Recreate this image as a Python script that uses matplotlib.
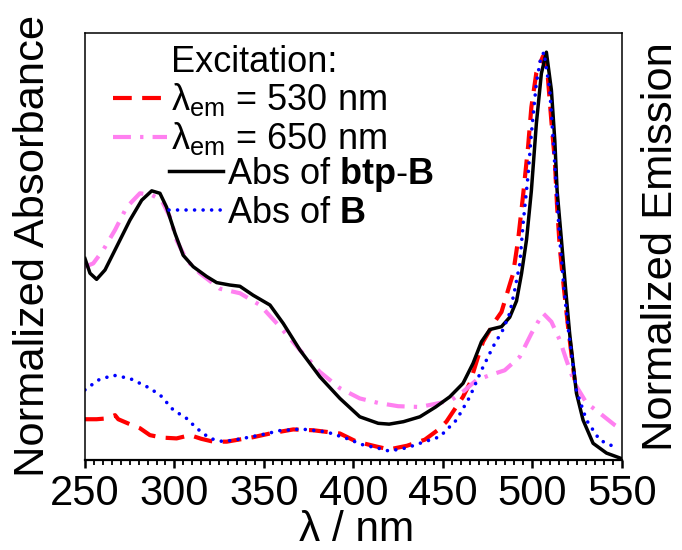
import matplotlib.pyplot as plt
from matplotlib.lines import Line2D
from matplotlib.ticker import MultipleLocator

plt.rcParams['font.family'] = ['Liberation Sans', 'DejaVu Sans']
plt.rcParams['mathtext.fontset'] = 'custom'
plt.rcParams['mathtext.rm'] = 'Liberation Sans'
plt.rcParams['mathtext.it'] = 'Liberation Sans:italic'
plt.rcParams['mathtext.bf'] = 'Liberation Sans:bold'

# Abs of btp-B (black solid)
wl_btp = [250, 252.8, 256.5, 261.2, 267.7, 275.1, 281.7, 287.3, 291.9, 295.6, 300.3, 304.9,
          310.5, 318, 323.6, 331, 336.6, 344, 353.4, 360.8, 370.1, 381.3, 392.5, 403.6,
          413.9, 420, 428, 437.2, 446, 453.9, 461.3, 466.9, 471.6, 476.3, 482.8, 487.4,
          491.2, 494, 496.8, 499.5, 502.3, 505.1, 507.9, 510.7, 512.6, 513.9, 516.3, 518.7,
          520.9, 524.7, 528.4, 534, 541.5, 549, 550]
abs_btp = [0.494, 0.458, 0.443, 0.466, 0.523, 0.588, 0.637, 0.66, 0.654, 0.62, 0.556, 0.502,
           0.474, 0.45, 0.435, 0.429, 0.426, 0.404, 0.38, 0.335, 0.27, 0.204, 0.151, 0.106,
           0.09, 0.088, 0.094, 0.106, 0.13, 0.155, 0.188, 0.237, 0.29, 0.32, 0.327, 0.35,
           0.39, 0.457, 0.54, 0.66, 0.825, 0.948, 1.0, 0.907, 0.784, 0.66, 0.54, 0.417,
           0.31, 0.164, 0.098, 0.041, 0.017, 0.005, 0.003]

# Abs of B (blue dotted)
wl_b = [250, 257.4, 265.8, 275.1, 284.5, 291.9, 299.3, 306.8, 312.4, 319.8, 327.3, 334.7,
        347.8, 358.9, 371, 385, 396.2, 405.5, 413.9, 420, 430, 437.2, 448.3, 457.6,
        465.1, 471.6, 478.1, 483.7, 487.4, 490.2, 493, 494.9, 497.7, 499.5, 502.3, 504.5,
        506.5, 509.8, 511.7, 513.5, 515.4, 517.8, 520.3, 524.7, 530.3, 537.7, 547]
abs_b = [0.172, 0.196, 0.208, 0.20, 0.18, 0.16, 0.123, 0.102, 0.078, 0.053, 0.045, 0.05,
         0.061, 0.072, 0.076, 0.069, 0.053, 0.037, 0.029, 0.022, 0.03, 0.041, 0.057, 0.098,
         0.155, 0.22, 0.278, 0.32, 0.36, 0.417, 0.48, 0.58, 0.70, 0.80, 0.924, 0.98,
         1.0, 0.907, 0.784, 0.66, 0.54, 0.417, 0.315, 0.17, 0.098, 0.049, 0.03]

# Excitation, lambda_em = 530 nm (red dashed)
wl_530 = [250, 256.5, 262.1, 266.8, 268.6, 275, 280.7, 286.3, 293, 301.2, 308.7, 315,
          321.7, 329.2, 344, 353.4, 366.4, 377.5, 392.5, 401.8, 413, 420, 430, 440,
          447.4, 452, 461.3, 465.1, 469.7, 472.5, 479, 482.8, 487.4, 489.3, 492.1, 494.9,
          497.7, 499.5, 502.3, 506, 508.5, 510.7, 512.6, 513.9, 515.4, 517.6, 520, 523.7]
exc_530 = [0.10, 0.10, 0.102, 0.11, 0.10, 0.088, 0.078, 0.061, 0.055, 0.053, 0.061, 0.052,
           0.045, 0.045, 0.056, 0.065, 0.075, 0.073, 0.065, 0.045, 0.033, 0.026, 0.035, 0.05,
           0.074, 0.094, 0.155, 0.188, 0.253, 0.29, 0.339, 0.363, 0.43, 0.457, 0.54, 0.65,
           0.77, 0.865, 0.95, 0.99, 0.95, 0.83, 0.735, 0.62, 0.52, 0.425, 0.327, 0.196]

# Excitation, lambda_em = 650 nm (violet dash-dot)
wl_650 = [250, 254.6, 260.2, 266.8, 273.3, 280.7, 287.3, 292.8, 297.5, 301.2, 306.8, 314.2,
          325.4, 336.6, 347.8, 358.9, 370.1, 381.3, 392.5, 403.6, 413.9, 425, 437.2, 448.3,
          454.8, 462, 468.8, 476.3, 484.6, 493, 499.5, 506, 510.7, 515.4, 519.1, 523.7,
          530.3, 537.7, 546, 550]
exc_650 = [0.474, 0.482, 0.515, 0.564, 0.62, 0.654, 0.65, 0.637, 0.596, 0.539, 0.49, 0.458,
           0.42, 0.409, 0.38, 0.327, 0.27, 0.216, 0.176, 0.151, 0.14, 0.132, 0.13, 0.14,
           0.147, 0.17, 0.196, 0.208, 0.22, 0.253, 0.31, 0.36, 0.339, 0.294, 0.245, 0.188,
           0.14, 0.115, 0.086, 0.075]

fig = plt.figure(figsize=(6.82, 5.5), dpi=100)
ax = fig.add_axes([0.1246, 0.1636, 0.787, 0.7764])

l530, = ax.plot(wl_530, exc_530, color='#ff0000', lw=3.0, dashes=(4.5, 2.5))
l650, = ax.plot(wl_650, exc_650, color='#ff80f0', lw=3.0, dashes=(4.3, 2.2, 0.8, 2.2))
lbtp, = ax.plot(wl_btp, abs_btp, color='black', lw=2.5)
lb, = ax.plot(wl_b, abs_b, color='#0000ff', lw=2.6, dashes=(0.01, 2.35), dash_capstyle='round')

ax.set_xlim(250, 550)
ax.set_ylim(0, 1.047)
ax.xaxis.set_major_locator(MultipleLocator(50))
ax.xaxis.set_minor_locator(MultipleLocator(5))
ax.tick_params(axis='x', which='major', direction='out', length=6, width=1.8,
               labelsize=30, pad=4, color='black')
ax.tick_params(axis='x', which='minor', direction='out', length=3.5, width=1.3, color='black')
ax.tick_params(axis='y', which='both', left=False, labelleft=False)
for s in ax.spines.values():
    s.set_linewidth(1.1)
ax.spines['bottom'].set_linewidth(1.6)

fig.text(0.523, 0.016, 'λ / nm', fontsize=30.5, ha='center', va='baseline')
fig.text(33.5 / 682, 0.552, 'Normalized Absorbance', fontsize=31.3, rotation=90,
         ha='center', va='center')
fig.text(661 / 682, 0.552, 'Normalized Emission', fontsize=31.3, rotation=90,
         ha='center', va='center')

blank = Line2D([], [], color='none')
leg1 = ax.legend([blank, l530, l650],
                 ['Excitation:', r'λ$_{\mathrm{em}}$ = 530 nm', r'λ$_{\mathrm{em}}$ = 650 nm'],
                 loc='upper left', bbox_to_anchor=(0.052, 0.973), frameon=False,
                 fontsize=26, handlelength=1.5, handletextpad=0.12,
                 labelspacing=0.05, borderaxespad=0, borderpad=0)
ax.add_artist(leg1)
ax.legend([lbtp, lb], [r'Abs of $\mathbf{btp}$-$\mathbf{B}$', r'Abs of $\mathbf{B}$'],
          loc='upper left', bbox_to_anchor=(0.156, 0.714), frameon=False,
          fontsize=26, handlelength=1.5, handletextpad=0.12,
          labelspacing=0.05, borderaxespad=0, borderpad=0)

fig.savefig('out.png', dpi=100)
